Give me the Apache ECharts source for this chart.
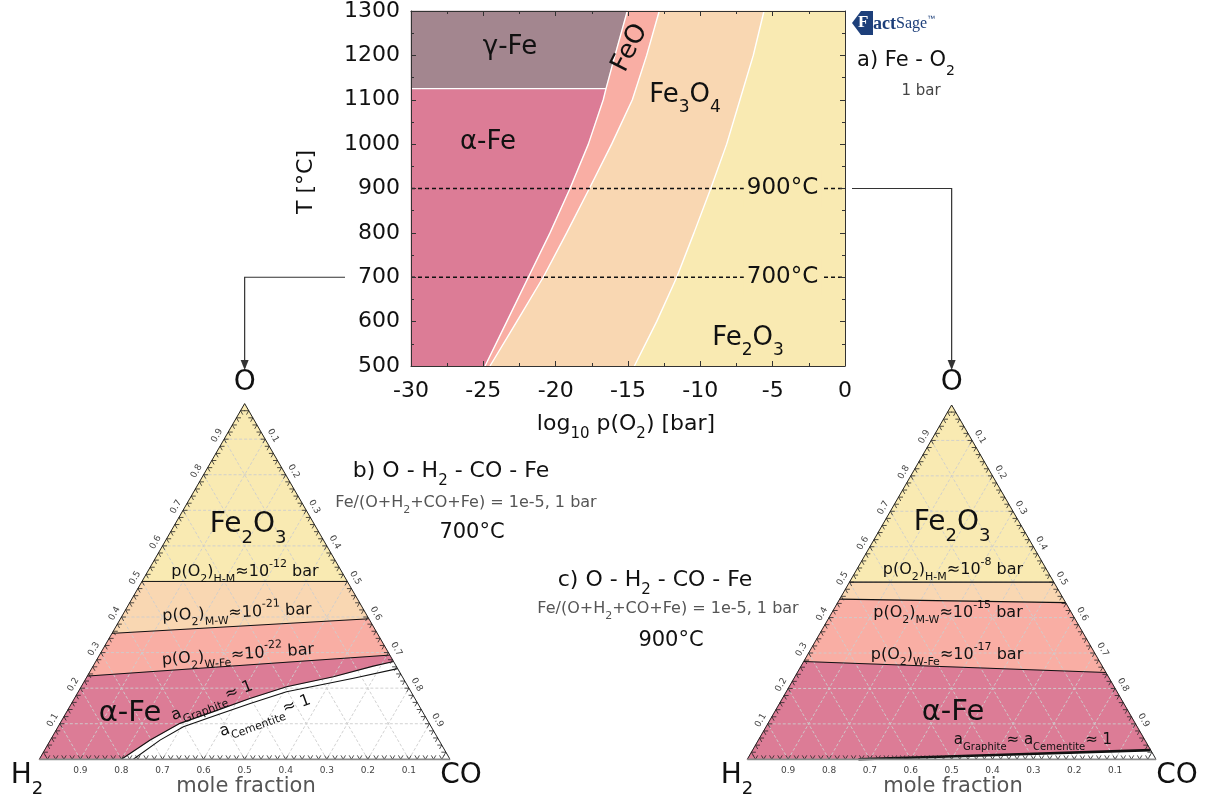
<!DOCTYPE html>
<html>
<head>
<meta charset="utf-8">
<script src="https://cdn.jsdelivr.net/npm/echarts@6.0.0/dist/echarts.min.js"></script>
<style>html,body{margin:0;padding:0;background:#fff;}#chart{width:1207px;height:805px;}</style>
</head>
<body>
<div id="chart"></div>
<script>
// ================= DATA =================
// a) Fe - O2 predominance diagram, boundaries as [log10 p(O2) (bar), T (°C)]
const xTickValues = [-30, -25, -20, -15, -10, -5, 0];
const yTickValues = [500, 600, 700, 800, 900, 1000, 1100, 1200, 1300];
const gammaAlphaT = 1125;
const bFeFeO = [[-24.88,500],[-23.38,600],[-21.89,700],[-20.39,800],[-19.01,900],[-17.74,1000],[-16.71,1100],[-16.52,1125],[-15.90,1200],[-15.05,1300]];
const bFeOFe3O4 = [[-24.54,500],[-22.69,600],[-20.86,700],[-19.24,800],[-17.67,900],[-16.13,1000],[-14.70,1100],[-13.71,1200],[-12.84,1300]];
const bFe3O4Fe2O3 = [[-14.56,500],[-13.02,600],[-11.63,700],[-10.44,800],[-9.28,900],[-8.18,1000],[-7.26,1100],[-6.34,1200],[-5.60,1300]];
const isoTemps = [700, 900];

// Ternary tick labels (mole fraction)
const ternTickValues = [0.1,0.2,0.3,0.4,0.5,0.6,0.7,0.8,0.9];

// b) 700 °C ternary, points as [x(O), x(CO)]  (x(H2) = 1 - x(O) - x(CO))
const b_HM = [[0.5,0],[0.5,0.5]];
const b_MW = [[0.354,0],[0.395,0.605]];
const b_WFe = [[0.234,0],[0.293,0.707]];
const b_graphite = [[0.275,0.725],[0.262,0.682],[0.232,0.600],[0.204,0.500],[0.171,0.427],[0.134,0.357],[0.101,0.292],[0.054,0.243],[0,0.2]];
const b_cementite = [[0.255,0.745],[0.228,0.651],[0.190,0.507],[0.157,0.435],[0.1245,0.370],[0.0917,0.305],[0.054,0.267],[0,0.229]];

// c) 900 °C ternary
const c_HM = [[0.5,0],[0.5,0.5]];
const c_MW = [[0.452,0],[0.442,0.558]];
const c_WFe = [[0.276,0],[0.245,0.755]];
const c_graphite = [[0,0.272],[0.013,0.62],[0.026,0.974]];

// ================= STYLE =================
const FONT = 'DejaVu Sans';
const COL = {gamma:'#A3868F', alpha:'#DC7C96', feo:'#F9AEA4', fe3o4:'#F9D7B2', fe2o3:'#F9EAB2'};
const SQ = Math.sqrt(3)/2;
const rev = a => a.slice().reverse();
const tern = p => [p[1] + p[0]/2, p[0]*SQ];

// top regions
const topRegions = [
  {color: COL.alpha, pts: [[-30,500],[-30,gammaAlphaT], ...rev(bFeFeO.filter(p=>p[1]<=gammaAlphaT))]},
  {color: COL.gamma, pts: [[-30,gammaAlphaT],[-30,1300], ...rev(bFeFeO.filter(p=>p[1]>=gammaAlphaT))]},
  {color: COL.feo, pts: [...bFeFeO, ...rev(bFeOFe3O4)]},
  {color: COL.fe3o4, pts: [...bFeOFe3O4, ...rev(bFe3O4Fe2O3)]},
  {color: COL.fe2o3, pts: [...bFe3O4Fe2O3, [0,1300],[0,500]]}
];
const bRegions = [
  {color: COL.fe2o3, pts: [[1,0], b_HM[0], b_HM[1]]},
  {color: COL.fe3o4, pts: [b_HM[0], b_MW[0], b_MW[1], b_HM[1]]},
  {color: COL.feo, pts: [b_MW[0], b_WFe[0], b_WFe[1], b_MW[1]]},
  {color: COL.alpha, pts: [b_WFe[0], [0,0], ...rev(b_graphite), b_WFe[1]]}
];
const cRegions = [
  {color: COL.fe2o3, pts: [[1,0], c_HM[0], c_HM[1]]},
  {color: COL.fe3o4, pts: [c_HM[0], c_MW[0], c_MW[1], c_HM[1]]},
  {color: COL.feo, pts: [c_MW[0], c_WFe[0], c_WFe[1], c_MW[1]]},
  {color: COL.alpha, pts: [c_WFe[0], [0,0], ...c_graphite, c_WFe[1]]}
];
const bLines = [{pts:b_HM,w:1},{pts:b_MW,w:1},{pts:b_WFe,w:1},{pts:b_graphite,w:1.1},{pts:b_cementite,w:1.1}];
const cLines = [{pts:c_HM,w:1.2},{pts:c_MW,w:1.2},{pts:c_WFe,w:1.2},{pts:c_graphite,w:2.6}];

const chart = echarts.init(document.getElementById('chart'), null, {renderer:'canvas'});

// ax = axis index of the ternary's hidden cartesian axes
function regionSeries(regions, ax, z){
  return {type:'custom', coordinateSystem:'cartesian2d', xAxisIndex:ax, yAxisIndex:ax, clip:false, silent:true, z,
    data: regions.map((r,i)=>[i]),
    renderItem:(params, api)=>{
      const r = regions[params.dataIndex];
      const pts = r.pts.map(p => api.coord(tern(p)));
      return {type:'polygon', shape:{points:pts}, style:{fill:r.color, stroke:r.color, lineWidth:0.6}};
    }};
}
function lineSeries(lines, ax, z){
  return {type:'custom', coordinateSystem:'cartesian2d', xAxisIndex:ax, yAxisIndex:ax, clip:false, silent:true, z,
    data: lines.map((r,i)=>[i]),
    renderItem:(params, api)=>{
      const r = lines[params.dataIndex];
      return {type:'polyline', shape:{points:r.pts.map(p=>api.coord(tern(p)))}, style:{stroke:'#111', lineWidth:r.w, fill:null}};
    }};
}
function gridSeries(ax, z){
  return {type:'custom', coordinateSystem:'cartesian2d', xAxisIndex:ax, yAxisIndex:ax, clip:false, silent:true, z,
    data:[[0]],
    renderItem:(params, api)=>{
      const P = p => api.coord(tern(p));
      const ch = [];
      const st = {stroke:'rgba(205,205,205,0.9)', lineWidth:1, lineDash:[3,2]};
      ternTickValues.forEach(v=>{
        [[[v,0],[v,1-v]],[[0,v],[1-v,v]],[[0,1-v],[1-v,0]]].forEach(([a,b])=>{
          const A=P(a), B=P(b);
          ch.push({type:'line', shape:{x1:A[0],y1:A[1],x2:B[0],y2:B[1]}, style:st});
        });
      });
      return {type:'group', children:ch};
    }};
}
function frameSeries(ax, z){
  return {type:'custom', coordinateSystem:'cartesian2d', xAxisIndex:ax, yAxisIndex:ax, clip:false, silent:true, z,
    data:[[0]],
    renderItem:(params, api)=>{
      const P = p => api.coord(tern(p));
      const ch = [];
      const seg = (a,b,style)=>{const A=P(a),B=P(b); ch.push({type:'line', shape:{x1:A[0],y1:A[1],x2:B[0],y2:B[1]}, style});};
      const tl = 0.011, tk = {stroke:'#222', lineWidth:0.8};
      for(let k=1;k<50;k++){
        const f=k/50;
        const pts = [[[0,f],[[1,0],[1,-1]]],[[f,0],[[0,1],[-1,1]]],[[f,1-f],[[0,-1],[-1,0]]]];
        pts.forEach(([p,dirs])=>dirs.forEach(d=>seg(p,[p[0]+d[0]*tl,p[1]+d[1]*tl],tk)));
      }
      seg([0,0],[1,0],{stroke:'#222', lineWidth:1});
      seg([1,0],[0,1],{stroke:'#222', lineWidth:1});
      seg([0,0],[0,1],{stroke:'#8a8a8a', lineWidth:1.8});
      const lab = (p,dx,dy,rot,txt)=>{const A=P(p); ch.push({type:'text', x:A[0]+dx, y:A[1]+dy, rotation:rot,
        style:{text:txt, fontSize:9, fontFamily:FONT, fill:'#444', align:'center', verticalAlign:'middle'}});};
      ternTickValues.forEach(v=>{
        const t = v.toFixed(1);
        lab([0,1-v],0,11.5,0,t);
        lab([v,0],-7,-3.5,Math.PI/3,t);
        lab([1-v,v],8,-3.5,-Math.PI/3,t);
      });
      return {type:'group', children:ch};
    }};
}

const axCommon = {
  axisLine:{show:true, onZero:false, lineStyle:{color:'#333', width:1}},
  axisTick:{show:true, inside:true, length:5, lineStyle:{color:'#333'}},
  minorTick:{show:true, splitNumber:2, length:3, lineStyle:{color:'#333'}},
  splitLine:{show:false}, z:10
};
const labStyle = {fontSize:22, fontFamily:FONT, color:'#111', formatter:v=>String(v)};

const option = {
  animation:false,
  backgroundColor:'#fff',
  grid:[
    {left:411, top:7.5, width:434, height:358.5},
    {left:39.3, top:403.6, width:410.7, height:355.7},
    {left:747.3, top:405, width:408.7, height:354.3}
  ],
  xAxis:[
    Object.assign({gridIndex:0, type:'value', min:-30, max:0, interval:5, position:'bottom', axisLabel:Object.assign({margin:14}, labStyle)}, axCommon),
    Object.assign({gridIndex:0, type:'value', min:-30, max:0, interval:5, position:'top', axisLabel:{show:false}}, axCommon),
    {gridIndex:1, type:'value', min:0, max:1, show:false},
    {gridIndex:2, type:'value', min:0, max:1, show:false}
  ],
  yAxis:[
    Object.assign({gridIndex:0, type:'value', min:500, max:1300, interval:100, position:'left', axisLabel:Object.assign({margin:11}, labStyle)}, axCommon),
    Object.assign({gridIndex:0, type:'value', min:500, max:1300, interval:100, position:'right', axisLabel:{show:false}}, axCommon),
    {gridIndex:1, type:'value', min:0, max:SQ, show:false},
    {gridIndex:2, type:'value', min:0, max:SQ, show:false}
  ],
  series:[
    // top diagram
    {type:'custom', coordinateSystem:'cartesian2d', xAxisIndex:0, yAxisIndex:0, clip:false, silent:true, z:1,
     data: topRegions.map((r,i)=>[i]),
     renderItem:(params, api)=>{const r=topRegions[params.dataIndex];
       return {type:'polygon', shape:{points:r.pts.map(p=>api.coord(p))}, style:{fill:r.color, stroke:r.color, lineWidth:0.6}};}},
    ...[bFeFeO, bFeOFe3O4, bFe3O4Fe2O3, [[-30,gammaAlphaT], bFeFeO.find(p=>p[1]===gammaAlphaT)]].map(d=>({
      type:'line', xAxisIndex:0, yAxisIndex:0, data:d, symbol:'none', silent:true, z:3,
      lineStyle:{color:'#ffffff', width:1.4}})),
    ...isoTemps.map(t=>({type:'line', xAxisIndex:0, yAxisIndex:0, data:[[-30,t],[0,t]], symbol:'none', silent:true, z:4,
      lineStyle:{color:'#111', width:1.3, type:[4,3]}})),
    // ternary b (axes index 2)
    regionSeries(bRegions,2,1), gridSeries(2,2), lineSeries(bLines,2,3), frameSeries(2,4),
    // ternary c (axes index 3)
    regionSeries(cRegions,3,1), gridSeries(3,2), lineSeries(cLines,3,3), frameSeries(3,4)
  ]
};
chart.setOption(option);

// ================= ANNOTATIONS =================
function rs(s, color){
  const sub = Math.round(s*0.66);
  return {
    n:{fontSize:s, fontFamily:FONT, fill:color, color:color, lineHeight:Math.round(s*1.6), verticalAlign:'middle'},
    s:{fontSize:sub, fontFamily:FONT, fill:color, color:color, lineHeight:Math.round(s*0.9), verticalAlign:'bottom'},
    p:{fontSize:sub, fontFamily:FONT, fill:color, color:color, lineHeight:Math.round(s*0.9), verticalAlign:'top'}
  };
}
function T(x, y, str, s, o={}){
  const color = o.color || '#111';
  return {type:'text', x, y, rotation:(o.rot||0)*Math.PI/180, z:100, silent:true,
    style:{text:str, rich:rs(s,color), fontSize:s, fontFamily:FONT, fill:color, align:'center', verticalAlign:'middle',
      backgroundColor:o.bg, padding:o.pad}};
}
const px = (gi, v) => chart.convertToPixel({gridIndex:gi}, v);
const y700 = px(0,[-30,700])[1], y900 = px(0,[-30,900])[1];
const oB = px(1, tern([1,0])), oC = px(2, tern([1,0]));
const ax0L = px(0,[-30,500])[0], ax0R = px(0,[0,500])[0];

const g = [
  // top diagram labels
  T(510,47,'{n|γ-Fe}',26), T(488,142,'{n|α-Fe}',26), T(630,48,'{n|FeO}',26,{rot:63}),
  T(685,95,'{n|Fe}{s|3}{n|O}{s|4}',26), T(748,338,'{n|Fe}{s|2}{n|O}{s|3}',26),
  T(782.5,y900,'{n|900°C}',23,{bg:COL.fe2o3, pad:[0,3]}), T(782.5,y700,'{n|700°C}',23,{bg:COL.fe2o3, pad:[0,3]}),
  T(306,182,'{n|T [°C]}',22,{rot:90}),
  T(626,424,'{n|log}{s|10}{n| p(O}{s|2}{n|) [bar]}',22),
  // FactSage mark
  {type:'polygon', z:100, silent:true, shape:{points:[[852,23],[861,11],[873,11],[873,35],[861,35]]}, style:{fill:'#1d3f7a'}},
  {type:'text', z:101, silent:true, x:858, y:23, style:{text:'F', fontSize:17, fontWeight:'bold', fontFamily:'Liberation Serif', fill:'#fff', align:'left', verticalAlign:'middle'}},
  {type:'text', z:101, silent:true, x:873, y:24, style:{text:'{a|act}{b|Sage}{c|™}', align:'left', verticalAlign:'middle',
    rich:{a:{fontSize:18, fontWeight:'bold', fontFamily:'Liberation Serif', fill:'#1d3f7a'}, b:{fontSize:16, fontFamily:'Liberation Serif', fill:'#1d3f7a'}, c:{fontSize:8, fill:'#1d3f7a', verticalAlign:'top'}}}},
  T(906,61,'{n|a) Fe - O}{s|2}',21), T(921,91,'{n|1 bar}',15,{color:'#444'}),
  // middle captions
  T(451,471,'{n|b) O - H}{s|2}{n| - CO - Fe}',22), T(466,503,'{n|Fe/(O+H}{s|2}{n|+CO+Fe) = 1e-5, 1 bar}',16,{color:'#555'}), T(472,533,'{n|700°C}',21),
  T(655,580,'{n|c) O - H}{s|2}{n| - CO - Fe}',22), T(668,609,'{n|Fe/(O+H}{s|2}{n|+CO+Fe) = 1e-5, 1 bar}',16,{color:'#555'}), T(671,641,'{n|900°C}',21),
  // ternary b
  T(oB[0],383,'{n|O}',28), T(27,776,'{n|H}{s|2}',28), T(461,776,'{n|CO}',28), T(246,787,'{n|mole fraction}',21,{color:'#555'}),
  T(248,525,'{n|Fe}{s|2}{n|O}{s|3}',28),
  T(245,572,'{n|p(O}{s|2}{n|)}{s|H-M}{n|≈10}{p|-12}{n| bar}',16),
  T(237,613,'{n|p(O}{s|2}{n|)}{s|M-W}{n|≈10}{p|-21}{n| bar}',16,{rot:2.5}),
  T(238,655,'{n|p(O}{s|2}{n|)}{s|W-Fe}{n|≈10}{p|-22}{n| bar}',16,{rot:4}),
  T(130,713,'{n|α-Fe}',29),
  T(212,701,'{n|a}{s|Graphite}{n|≈ 1}',16,{rot:21}),
  T(265,716,'{n|a}{s|Cementite}{n|≈ 1}',16,{rot:20}),
  // ternary c
  T(oC[0],383,'{n|O}',28), T(737,776,'{n|H}{s|2}',28), T(1177,776,'{n|CO}',28), T(953,787,'{n|mole fraction}',21,{color:'#555'}),
  T(952,523,'{n|Fe}{s|2}{n|O}{s|3}',28),
  T(953,570,'{n|p(O}{s|2}{n|)}{s|H-M}{n|≈10}{p|-8}{n| bar}',16),
  T(948,613,'{n|p(O}{s|2}{n|)}{s|M-W}{n|≈10}{p|-15}{n| bar}',16),
  T(947,655,'{n|p(O}{s|2}{n|)}{s|W-Fe}{n|≈10}{p|-17}{n| bar}',16),
  T(953,712,'{n|α-Fe}',29),
  T(1033,740,'{n|a}{s|Graphite}{n|≈ a}{s|Cementite}{n|≈ 1}',15),
  // connector arrows
  {type:'polyline', z:90, silent:true, shape:{points:[[ax0L-66,y700],[oB[0],y700],[oB[0],368]]}, style:{stroke:'#333', lineWidth:1.2, fill:null}},
  {type:'polygon', z:90, silent:true, shape:{points:[[oB[0]-4,360],[oB[0]+4,360],[oB[0],370]]}, style:{fill:'#333'}},
  {type:'polyline', z:90, silent:true, shape:{points:[[ax0R+7,y900],[oC[0],y900],[oC[0],368]]}, style:{stroke:'#333', lineWidth:1.2, fill:null}},
  {type:'polygon', z:90, silent:true, shape:{points:[[oC[0]-4,360],[oC[0]+4,360],[oC[0],370]]}, style:{fill:'#333'}}
];
chart.setOption({graphic:g});
</script>
</body>
</html>
